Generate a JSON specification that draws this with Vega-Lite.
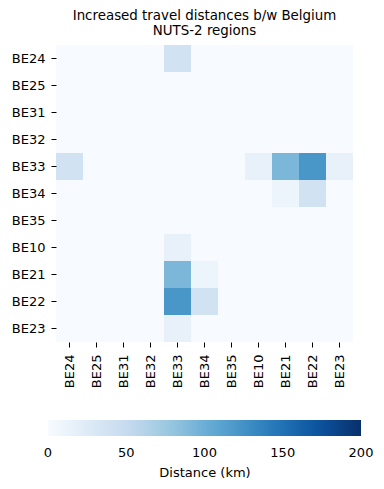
{
  "$schema": "https://vega.github.io/schema/vega-lite/v6.json",
  "width": 297,
  "height": 297,
  "autosize": {"type": "none"},
  "padding": {"left": 56, "top": 45, "right": 31, "bottom": 147},
  "config": {"view": {"stroke": null}, "font": "DejaVu Sans"},
  "title": {
    "text": ["Increased travel distances b/w Belgium", "NUTS-2 regions"],
    "fontSize": 13.4,
    "fontWeight": "normal",
    "lineHeight": 15,
    "anchor": "middle",
    "offset": 8,
    "color": "black",
    "font": "DejaVu Sans"
  },
  "data": {
    "values": [
      {"origin": "BE24", "dest": "BE24", "km": 0}, {"origin": "BE24", "dest": "BE25", "km": 0}, {"origin": "BE24", "dest": "BE31", "km": 0}, {"origin": "BE24", "dest": "BE32", "km": 0}, {"origin": "BE24", "dest": "BE33", "km": 38}, {"origin": "BE24", "dest": "BE34", "km": 0}, {"origin": "BE24", "dest": "BE35", "km": 0}, {"origin": "BE24", "dest": "BE10", "km": 0}, {"origin": "BE24", "dest": "BE21", "km": 0}, {"origin": "BE24", "dest": "BE22", "km": 0}, {"origin": "BE24", "dest": "BE23", "km": 0},
      {"origin": "BE25", "dest": "BE24", "km": 0}, {"origin": "BE25", "dest": "BE25", "km": 0}, {"origin": "BE25", "dest": "BE31", "km": 0}, {"origin": "BE25", "dest": "BE32", "km": 0}, {"origin": "BE25", "dest": "BE33", "km": 0}, {"origin": "BE25", "dest": "BE34", "km": 0}, {"origin": "BE25", "dest": "BE35", "km": 0}, {"origin": "BE25", "dest": "BE10", "km": 0}, {"origin": "BE25", "dest": "BE21", "km": 0}, {"origin": "BE25", "dest": "BE22", "km": 0}, {"origin": "BE25", "dest": "BE23", "km": 0},
      {"origin": "BE31", "dest": "BE24", "km": 0}, {"origin": "BE31", "dest": "BE25", "km": 0}, {"origin": "BE31", "dest": "BE31", "km": 0}, {"origin": "BE31", "dest": "BE32", "km": 0}, {"origin": "BE31", "dest": "BE33", "km": 0}, {"origin": "BE31", "dest": "BE34", "km": 0}, {"origin": "BE31", "dest": "BE35", "km": 0}, {"origin": "BE31", "dest": "BE10", "km": 0}, {"origin": "BE31", "dest": "BE21", "km": 0}, {"origin": "BE31", "dest": "BE22", "km": 0}, {"origin": "BE31", "dest": "BE23", "km": 0},
      {"origin": "BE32", "dest": "BE24", "km": 0}, {"origin": "BE32", "dest": "BE25", "km": 0}, {"origin": "BE32", "dest": "BE31", "km": 0}, {"origin": "BE32", "dest": "BE32", "km": 0}, {"origin": "BE32", "dest": "BE33", "km": 0}, {"origin": "BE32", "dest": "BE34", "km": 0}, {"origin": "BE32", "dest": "BE35", "km": 0}, {"origin": "BE32", "dest": "BE10", "km": 0}, {"origin": "BE32", "dest": "BE21", "km": 0}, {"origin": "BE32", "dest": "BE22", "km": 0}, {"origin": "BE32", "dest": "BE23", "km": 0},
      {"origin": "BE33", "dest": "BE24", "km": 38}, {"origin": "BE33", "dest": "BE25", "km": 0}, {"origin": "BE33", "dest": "BE31", "km": 0}, {"origin": "BE33", "dest": "BE32", "km": 0}, {"origin": "BE33", "dest": "BE33", "km": 0}, {"origin": "BE33", "dest": "BE34", "km": 0}, {"origin": "BE33", "dest": "BE35", "km": 0}, {"origin": "BE33", "dest": "BE10", "km": 15}, {"origin": "BE33", "dest": "BE21", "km": 92}, {"origin": "BE33", "dest": "BE22", "km": 121}, {"origin": "BE33", "dest": "BE23", "km": 15},
      {"origin": "BE34", "dest": "BE24", "km": 0}, {"origin": "BE34", "dest": "BE25", "km": 0}, {"origin": "BE34", "dest": "BE31", "km": 0}, {"origin": "BE34", "dest": "BE32", "km": 0}, {"origin": "BE34", "dest": "BE33", "km": 0}, {"origin": "BE34", "dest": "BE34", "km": 0}, {"origin": "BE34", "dest": "BE35", "km": 0}, {"origin": "BE34", "dest": "BE10", "km": 0}, {"origin": "BE34", "dest": "BE21", "km": 10}, {"origin": "BE34", "dest": "BE22", "km": 38}, {"origin": "BE34", "dest": "BE23", "km": 0},
      {"origin": "BE35", "dest": "BE24", "km": 0}, {"origin": "BE35", "dest": "BE25", "km": 0}, {"origin": "BE35", "dest": "BE31", "km": 0}, {"origin": "BE35", "dest": "BE32", "km": 0}, {"origin": "BE35", "dest": "BE33", "km": 0}, {"origin": "BE35", "dest": "BE34", "km": 0}, {"origin": "BE35", "dest": "BE35", "km": 0}, {"origin": "BE35", "dest": "BE10", "km": 0}, {"origin": "BE35", "dest": "BE21", "km": 0}, {"origin": "BE35", "dest": "BE22", "km": 0}, {"origin": "BE35", "dest": "BE23", "km": 0},
      {"origin": "BE10", "dest": "BE24", "km": 0}, {"origin": "BE10", "dest": "BE25", "km": 0}, {"origin": "BE10", "dest": "BE31", "km": 0}, {"origin": "BE10", "dest": "BE32", "km": 0}, {"origin": "BE10", "dest": "BE33", "km": 15}, {"origin": "BE10", "dest": "BE34", "km": 0}, {"origin": "BE10", "dest": "BE35", "km": 0}, {"origin": "BE10", "dest": "BE10", "km": 0}, {"origin": "BE10", "dest": "BE21", "km": 0}, {"origin": "BE10", "dest": "BE22", "km": 0}, {"origin": "BE10", "dest": "BE23", "km": 0},
      {"origin": "BE21", "dest": "BE24", "km": 0}, {"origin": "BE21", "dest": "BE25", "km": 0}, {"origin": "BE21", "dest": "BE31", "km": 0}, {"origin": "BE21", "dest": "BE32", "km": 0}, {"origin": "BE21", "dest": "BE33", "km": 92}, {"origin": "BE21", "dest": "BE34", "km": 10}, {"origin": "BE21", "dest": "BE35", "km": 0}, {"origin": "BE21", "dest": "BE10", "km": 0}, {"origin": "BE21", "dest": "BE21", "km": 0}, {"origin": "BE21", "dest": "BE22", "km": 0}, {"origin": "BE21", "dest": "BE23", "km": 0},
      {"origin": "BE22", "dest": "BE24", "km": 0}, {"origin": "BE22", "dest": "BE25", "km": 0}, {"origin": "BE22", "dest": "BE31", "km": 0}, {"origin": "BE22", "dest": "BE32", "km": 0}, {"origin": "BE22", "dest": "BE33", "km": 121}, {"origin": "BE22", "dest": "BE34", "km": 38}, {"origin": "BE22", "dest": "BE35", "km": 0}, {"origin": "BE22", "dest": "BE10", "km": 0}, {"origin": "BE22", "dest": "BE21", "km": 0}, {"origin": "BE22", "dest": "BE22", "km": 0}, {"origin": "BE22", "dest": "BE23", "km": 0},
      {"origin": "BE23", "dest": "BE24", "km": 0}, {"origin": "BE23", "dest": "BE25", "km": 0}, {"origin": "BE23", "dest": "BE31", "km": 0}, {"origin": "BE23", "dest": "BE32", "km": 0}, {"origin": "BE23", "dest": "BE33", "km": 15}, {"origin": "BE23", "dest": "BE34", "km": 0}, {"origin": "BE23", "dest": "BE35", "km": 0}, {"origin": "BE23", "dest": "BE10", "km": 0}, {"origin": "BE23", "dest": "BE21", "km": 0}, {"origin": "BE23", "dest": "BE22", "km": 0}, {"origin": "BE23", "dest": "BE23", "km": 0}
    ]
  },
  "mark": {"type": "rect", "strokeWidth": 0},
  "encoding": {
    "x": {
      "field": "dest",
      "type": "nominal",
      "sort": ["BE24", "BE25", "BE31", "BE32", "BE33", "BE34", "BE35", "BE10", "BE21", "BE22", "BE23"],
      "scale": {"paddingInner": 0, "paddingOuter": 0},
      "axis": {"title": null, "domain": false, "tickSize": 5, "tickColor": "black", "labelAngle": -90, "labelFontSize": 13, "labelColor": "black", "labelPadding": 7, "labelFont": "DejaVu Sans"}
    },
    "y": {
      "field": "origin",
      "type": "nominal",
      "sort": ["BE24", "BE25", "BE31", "BE32", "BE33", "BE34", "BE35", "BE10", "BE21", "BE22", "BE23"],
      "scale": {"paddingInner": 0, "paddingOuter": 0},
      "axis": {"title": null, "domain": false, "tickSize": 5, "tickColor": "black", "labelFontSize": 13, "labelColor": "black", "labelPadding": 6, "labelFont": "DejaVu Sans"}
    },
    "color": {
      "field": "km",
      "type": "quantitative",
      "scale": {
        "domain": [0, 25, 50, 75, 100, 125, 150, 175, 200],
        "range": ["#f7fbff", "#deebf7", "#c6dbef", "#9ecae1", "#6baed6", "#4292c6", "#2171b5", "#08519c", "#08306b"]
      },
      "legend": {
        "orient": "none",
        "legendX": -8,
        "legendY": 375,
        "direction": "horizontal",
        "gradientLength": 313,
        "gradientThickness": 16,
        "gradientStrokeWidth": 0,
        "values": [0, 50, 100, 150, 200],
        "title": "Distance (km)",
        "titleOrient": "bottom",
        "titleAnchor": "middle",
        "titleFontSize": 13,
        "titleFontWeight": "normal",
        "titleColor": "black",
        "titleFont": "DejaVu Sans",
        "titlePadding": 7,
        "labelFontSize": 13,
        "labelColor": "black",
        "labelFont": "DejaVu Sans",
        "labelOffset": 11,
        "labelAlign": "center",
        "labelOverlap": false,
        "encode": {"labels": {"update": {"align": {"value": "center"}}}}
      }
    }
  }
}
